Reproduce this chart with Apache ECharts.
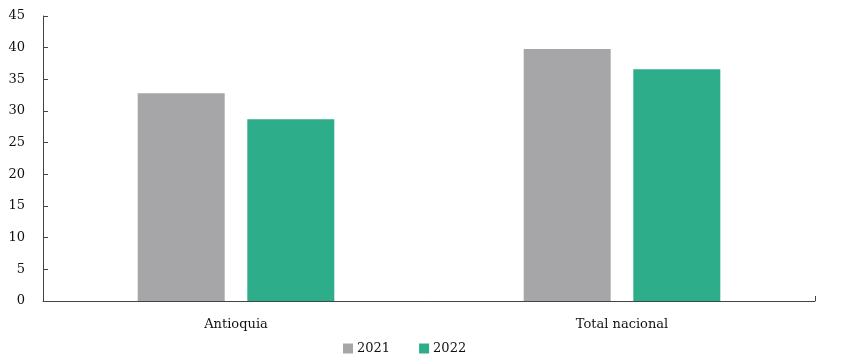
<!DOCTYPE html>
<html>
<head>
<meta charset="utf-8">
<script src="https://cdn.jsdelivr.net/npm/echarts@6/dist/echarts.min.js"></script>
<style>html,body{margin:0;padding:0;background:#fff}#c{width:847px;height:355px}</style>
</head>
<body>
<div id="c"></div>
<script>
var categories = ['Antioquia', 'Total nacional'];
var series2021 = [32.8, 39.8];
var series2022 = [28.7, 36.6];
var seriesNames = ['2021', '2022'];
var yTicks = [0, 5, 10, 15, 20, 25, 30, 35, 40, 45];

var font = 'DejaVu Serif';
var chart = echarts.init(document.getElementById('c'));
chart.setOption({
  animation: false,
  textStyle: { fontFamily: font },
  grid: { left: 43, right: 32, top: 16, bottom: 54, containLabel: false },
  legend: {
    data: seriesNames,
    bottom: -5,
    left: 338,
    itemWidth: 10,
    itemHeight: 10,
    itemGap: 29,
    icon: 'rect',
    textStyle: { fontFamily: font, fontSize: 13, color: '#111', padding: [0, 0, 0, -1] }
  },
  xAxis: [{
    type: 'category',
    data: categories,
    axisLine: { lineStyle: { color: '#444', width: 1 } },
    axisTick: { show: false },
    axisLabel: { fontFamily: font, fontSize: 13, color: '#111', margin: 17 }
  }, {
    type: 'value',
    position: 'bottom',
    min: 0, max: 1,
    axisLine: { show: false },
    axisLabel: { show: false },
    splitLine: { show: false },
    axisTick: { show: true, inside: true, length: 5, customValues: [1], lineStyle: { color: '#444' } }
  }],
  yAxis: {
    type: 'value',
    min: 0, max: 45, interval: 5,
    axisLine: { show: true, lineStyle: { color: '#444', width: 1 } },
    axisTick: { show: true, inside: true, length: 5, lineStyle: { color: '#444' } },
    splitLine: { show: false },
    axisLabel: {
      fontFamily: font, fontSize: 13, color: '#111', margin: 18,
      formatter: function (v) { return yTicks.indexOf(v) >= 0 ? String(v) : ''; }
    }
  },
  series: [{
    name: seriesNames[0], type: 'bar', data: series2021,
    barWidth: 87, barGap: '26%',
    itemStyle: { color: '#a6a6a8' }
  }, {
    name: seriesNames[1], type: 'bar', data: series2022,
    barWidth: 87, barGap: '26%',
    itemStyle: { color: '#2ead8b' }
  }]
});
</script>
</body>
</html>
